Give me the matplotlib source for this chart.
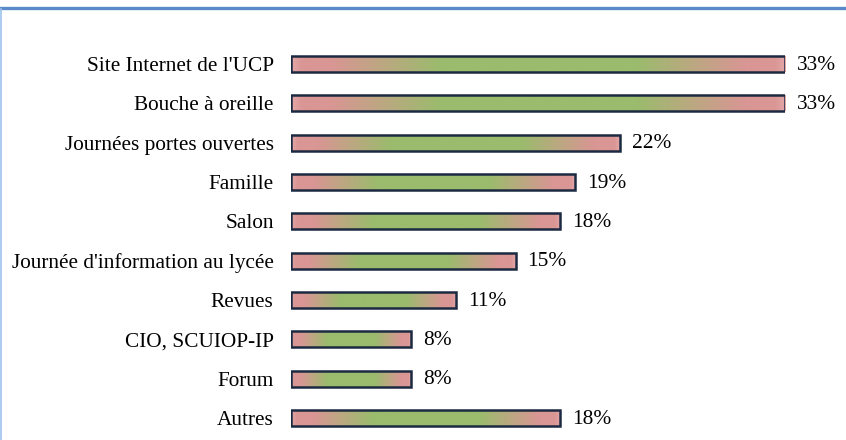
import numpy as np
import matplotlib
matplotlib.use("Agg")
import matplotlib.pyplot as plt
from matplotlib.patches import Rectangle
from matplotlib.lines import Line2D
from matplotlib.colors import LinearSegmentedColormap

categories = ["Site Internet de l'UCP", "Bouche à oreille", "Journées portes ouvertes",
              "Famille", "Salon", "Journée d'information au lycée", "Revues",
              "CIO, SCUIOP-IP", "Forum", "Autres"]
values = [33, 33, 22, 19, 18, 15, 11, 8, 8, 18]

plt.rcParams['font.family'] = ['Liberation Serif', 'DejaVu Serif']

W, H = 846, 440
fig = plt.figure(figsize=(W / 100, H / 100), dpi=100)
ax = fig.add_axes([291 / W, (H - 437.7) / H, (785 - 291) / W, 393.4 / H])

cmap = LinearSegmentedColormap.from_list(
    "pg", [(0, "#E3A7A8"), (0.02, "#D99694"), (0.08, "#D99694"), (0.3, "#9BBB6D"),
           (0.7, "#9BBB6D"), (0.92, "#D99694"), (0.98, "#D99694"), (1, "#E3A7A8")])
grad = np.linspace(0, 1, 256).reshape(1, -1)

bh = 0.4
for i, v in enumerate(values):
    ax.imshow(grad, cmap=cmap, aspect='auto', extent=[0, v, i - bh / 2, i + bh / 2],
              interpolation='bilinear', zorder=2)
    ax.add_patch(Rectangle((0, i - bh / 2), v, bh, fill=False,
                           edgecolor="#1B2A41", linewidth=1.8, zorder=3))
    ax.text(v + 0.8, i + 0.03, f"{v}%", va='center', ha='left', fontsize=15.4,
            color="black", clip_on=False)

ax.set_xlim(0, 33)
ax.set_ylim(len(values) - 0.5, -0.5)
ax.set_yticks(range(len(values)))
ax.set_yticklabels(categories, fontsize=15.3, color="black")
ax.tick_params(axis='y', length=0, pad=12.5)
ax.set_xticks([])
for s in ax.spines.values():
    s.set_visible(False)

# cadre bleu
fig.add_artist(Line2D([0, 1], [1 - 8.5 / H, 1 - 8.5 / H], color="#5A8AC9",
                      linewidth=2.4, transform=fig.transFigure))
fig.add_artist(Line2D([0.6 / W, 0.6 / W], [0, 1 - 9 / H], color="#9DC3EE",
                      linewidth=1.2, transform=fig.transFigure))

fig.savefig("out.png", dpi=100)
